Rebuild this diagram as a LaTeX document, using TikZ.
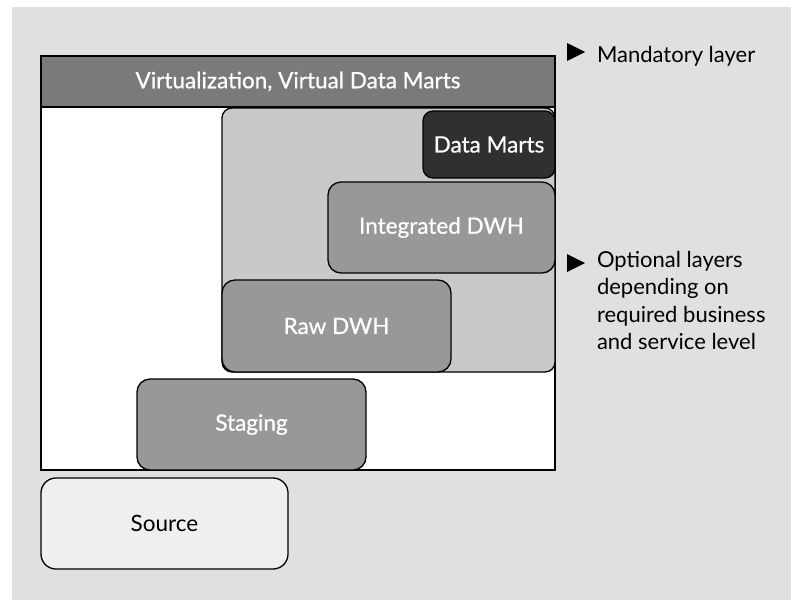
\documentclass[tikz,border=0pt]{standalone}
\usepackage{fontspec}
\setmainfont{Lato}
\newfontface\boxface[FakeBold=0.7]{Lato}
\usetikzlibrary{positioning}
\definecolor{canvas}{HTML}{E0E0E0}
\definecolor{bargray}{HTML}{7A7A7A}
\definecolor{optgray}{HTML}{C9C9C9}
\definecolor{dwhgray}{HTML}{989898}
\definecolor{martgray}{HTML}{303030}
\definecolor{srcgray}{HTML}{EFEFEF}

\begin{document}
\begin{tikzpicture}[
  x=1pt, y=-1pt,
  every node/.style = {inner sep=0pt, outer sep=0pt},
  layer/.style  = {draw, line width=1.3pt, rounded corners=13pt, anchor=north west,
                   fill=dwhgray, text=white, font=\fontsize{22.5}{26}\boxface},
  legend/.style = {anchor=north west, align=left, font=\fontsize{22}{27.5}\selectfont},
  bullet/.style = {fill=black}
]
\useasboundingbox (0,0) rectangle (791,600);
\fill[canvas] (12,7) rectangle (791,600);

%% ---- frame and bar ----
\node[draw, line width=1.3pt, fill=white, anchor=north west,
      minimum width=514pt, minimum height=363pt] (frame) at (41,107) {};
\node[draw, line width=1.3pt, fill=bargray, anchor=south west, text=white,
      minimum width=514pt, minimum height=51pt,
      font=\fontsize{22.5}{26}\boxface] (virt) at (frame.north west) {Virtualization, Virtual Data Marts};

%% ---- optional area ----
\node[layer, fill=optgray, rounded corners=10pt,
      minimum width=333pt, minimum height=264pt] (optarea) at (222,108) {};

%% ---- layers ----
\node[layer, minimum width=229pt, minimum height=92pt]  (raw)   at (222,280) {Raw DWH};
\node[layer, minimum width=227pt, minimum height=91pt]  (integ) at (328,182) {Integrated DWH};
\node[layer, fill=martgray, rounded corners=10pt,
      minimum width=132pt, minimum height=67pt]         (marts) at (423,111) {Data Marts};
\node[layer, minimum width=229pt, minimum height=91pt]  (stage) at (137,379) {Staging};
\node[layer, fill=srcgray, text=black, rounded corners=15pt,
      font=\fontsize{22.5}{26}\selectfont,
      minimum width=247pt, minimum height=91pt,
      below=8pt of frame.south west, anchor=north west] (source) {Source};

%% ---- legend ----
\node[legend] (mand) at (597,46) {Mandatory layer};
\node[legend] (optl) at (597,251) {Optional layers\\depending on\\required business\\and service level};
\fill[bullet] (567,43) -- (585,52) -- (567,61) -- cycle;
\fill[bullet] (567,254) -- (585,263) -- (567,272) -- cycle;

\end{tikzpicture}
\end{document}
